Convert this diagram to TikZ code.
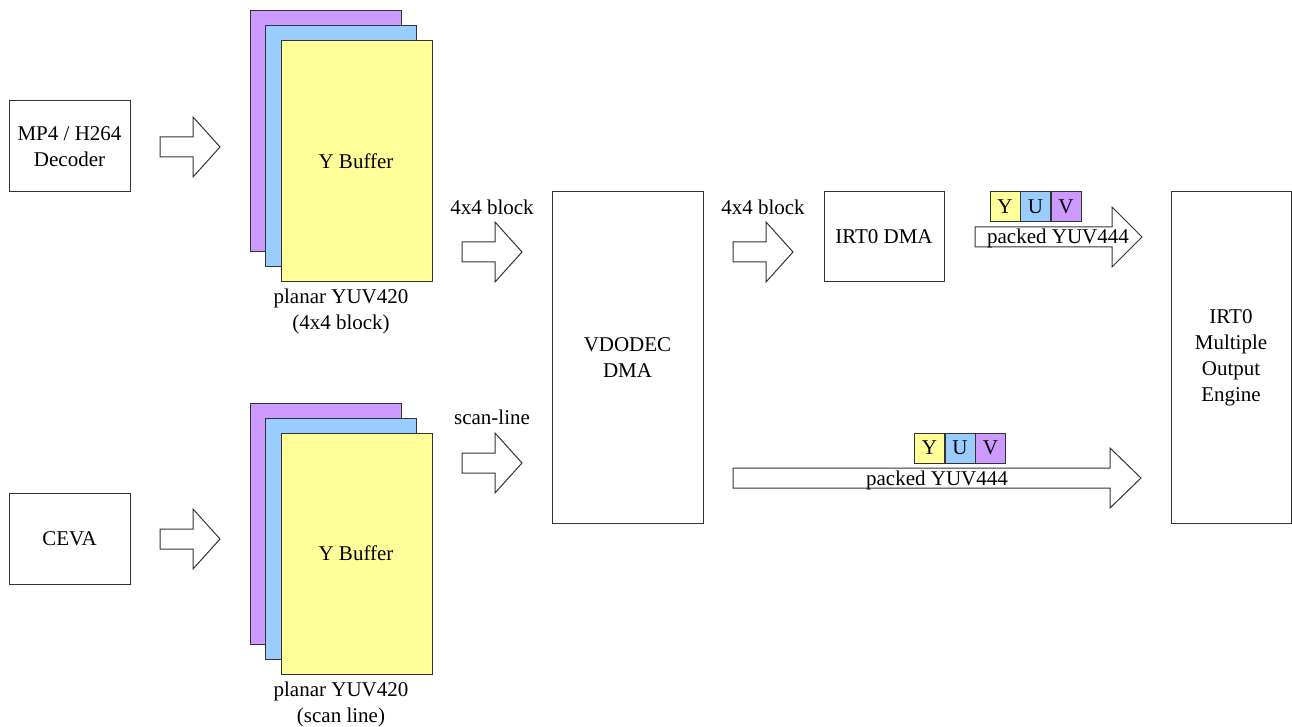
\documentclass[tikz,border=0pt]{standalone}
\usepackage{fontspec}
\setmainfont{Liberation Serif}
\begin{document}
\begin{tikzpicture}[x=0.75pt,y=-0.75pt,
  font=\fontsize{15.75}{19.5}\selectfont,
  line width=0.75pt,
  box/.style={draw=black!80, line width=0.75pt, fill=white, inner sep=0pt, align=center, rectangle},
  plane/.style={draw=black!80, line width=0.75pt, inner sep=0pt, minimum width=113.25pt, minimum height=180.75pt},
  cell/.style={draw=black!80, line width=0.75pt, inner sep=0pt, minimum width=22.5pt, minimum height=22.5pt},
  arrowline/.style={draw=black!80, line width=0.75pt, fill=white},
  lbl/.style={inner sep=0pt, align=center}]
\definecolor{cpurple}{HTML}{CC99FF}
\definecolor{cblue}{HTML}{99CCFF}
\definecolor{cyellow}{HTML}{FFFF99}
\useasboundingbox (0,0) rectangle (1292,727);
\newcommand{\BArrow}[6]{\draw[arrowline] (#1,#4-#5) -- (#2,#4-#5) -- (#2,#4-#6) -- (#3,#4) -- (#2,#4+#6) -- (#2,#4+#5) -- (#1,#4+#5) -- cycle;}

% source boxes
\node[box, minimum width=90.75pt, minimum height=68.25pt] (mp4) at (69.5,146.5) {MP4 / H264\\Decoder};
\node[box, minimum width=90.75pt, minimum height=68.25pt] (ceva) at (69.5,538.5) {CEVA};

% arrows into buffers
\BArrow{160}{193}{220}{147}{10}{30}
\BArrow{160}{193}{220}{539}{10}{30}

% top buffer stack
\node[plane, fill=cpurple] (v1) at (325.5,131) {};
\node[plane, fill=cblue] (u1) at (341,146) {};
\node[plane, fill=cyellow] (y1) at (356.5,161.5) {};
\node[lbl] (ybuf1) at (356,161) {Y Buffer};
\node[lbl] (pl1) at (341,311) {planar YUV420\\(4x4 block)};

% bottom buffer stack
\node[plane, fill=cpurple] (v2) at (325.5,523.5) {};
\node[plane, fill=cblue] (u2) at (341,538.5) {};
\node[plane, fill=cyellow] (y2) at (356.5,553.5) {};
\node[lbl] (ybuf2) at (356,553) {Y Buffer};
\node[lbl] (pl2) at (341,704) {planar YUV420\\(scan line)};

% into VDODEC
\node[lbl] (l44a) at (492,207) {4x4 block};
\BArrow{462}{495}{522}{252}{10}{30}
\node[lbl] (lscan) at (492,417) {scan-line};
\BArrow{462}{495}{522}{463}{10}{30}

% VDODEC DMA
\node[box, minimum width=113.25pt, minimum height=248.25pt] (vdodec) at (627.5,357.5) {VDODEC\\DMA};

% to IRT0 DMA
\node[lbl] (l44b) at (763,207) {4x4 block};
\BArrow{733}{766}{793}{252}{10}{30}
\node[box, minimum width=90pt, minimum height=67.5pt] (irtdma) at (884,237) {IRT0 DMA};

% top packed arrow
\BArrow{975}{1112}{1142}{237}{10}{30}
\node[cell, fill=cyellow] (ya) at (1005,207) {Y};
\node[cell, fill=cblue] (ua) at (1035.5,207) {U};
\node[cell, fill=cpurple] (va) at (1066,207) {V};
\node[lbl] (pk1) at (1058,238) {packed YUV444};

% bottom packed arrow
\BArrow{733}{1110}{1141}{478}{10}{30}
\node[cell, fill=cyellow] (yb) at (929.5,448) {Y};
\node[cell, fill=cblue] (ub) at (960,448) {U};
\node[cell, fill=cpurple] (vb) at (990.5,448) {V};
\node[lbl] (pk2) at (937,480) {packed YUV444};

% IRT0 Multiple Output Engine
\node[box, minimum width=90pt, minimum height=248.25pt] (irteng) at (1231,357.5) {IRT0\\Multiple\\Output\\Engine};
\end{tikzpicture}
\end{document}
